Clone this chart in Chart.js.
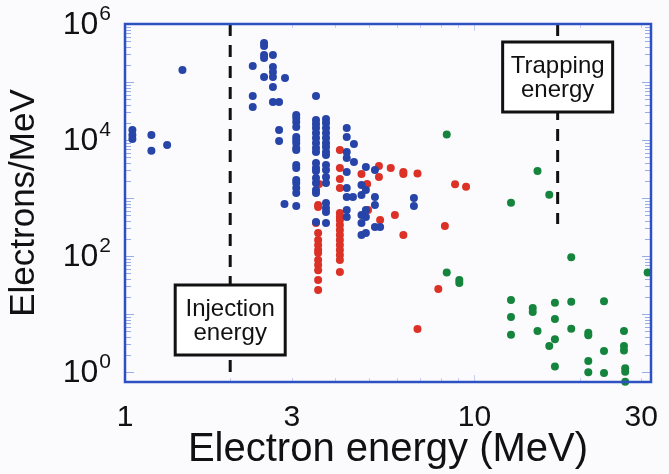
<!DOCTYPE html>
<html>
<head>
<meta charset="utf-8">
<script src="https://cdn.jsdelivr.net/npm/chart.js@4.4.1/dist/chart.umd.min.js"></script>
<style>
  body { margin: 0; background: #fbfbfd; }
  #wrap { width: 669px; height: 474px; }
</style>
</head>
<body>
<div id="wrap"><canvas id="chartSpectra" width="669" height="474"></canvas></div>
<script>
// Espectros de elétrons: [energia (MeV), elétrons/MeV]
const blueSpectra = [
    [1.05, 1.49e4], [1.05, 1.22e4], [1.05, 1.04e4], [1.19, 1.22e4], [1.19, 6.5e3], [1.32, 8.2e3], [1.46, 1.61e5],
    [2.32, 1.89e5], [2.32, 5.73e4], [2.32, 3.71e4],
    [2.50, 4.70e5], [2.50, 4.18e5], [2.50, 2.92e5], [2.50, 2.59e5], [2.50, 1.22e5],
    [2.65, 2.92e5], [2.65, 1.81e5], [2.65, 1.49e5], [2.65, 1.22e5], [2.65, 8.2e4], [2.65, 4.52e4],
    [2.76, 4.52e4], [2.76, 1.49e4], [2.76, 9.6e3], [2.87, 1.17e5], [3.52, 5.73e4], [2.86, 789],
    [3.09, 2.70e4], [3.09, 2.40e4], [3.09, 2.04e4], [3.09, 1.67e4], [3.09, 1.13e4], [3.09, 1.0e4], [3.09, 8.9e3],
    [3.09, 7.3e3], [3.09, 6.7e3], [3.09, 3.7e3], [3.09, 3.29e3], [3.09, 2.04e3], [3.09, 1.81e3], [3.09, 1.49e3],
    [3.09, 1.22e3], [3.09, 728],
    [3.52, 2.21e4], [3.52, 1.89e4], [3.52, 1.61e4], [3.52, 1.32e4], [3.52, 1.08e4], [3.52, 8.9e3], [3.52, 7.3e3],
    [3.52, 6.2e3], [3.52, 4.0e3], [3.52, 3.29e3], [3.52, 2.92e3], [3.52, 2.21e3], [3.52, 1.81e3], [3.52, 1.37e3],
    [3.52, 1.22e3], [3.52, 386],
    [3.76, 2.30e4], [3.76, 1.96e4], [3.76, 1.61e4], [3.76, 1.32e4], [3.76, 1.08e4], [3.76, 8.9e3], [3.76, 7.6e3],
    [3.76, 6.2e3], [3.76, 5.5e3], [3.76, 3.7e3], [3.76, 3.04e3], [3.76, 2.30e3], [3.76, 1.81e3], [3.76, 820],
    [3.76, 673], [3.76, 574], [3.76, 371],
    [4.31, 1.61e4], [4.31, 1.13e4], [4.31, 6.2e3], [4.31, 4.9e3], [4.31, 2.81e3], [4.31, 1.49e3], [4.31, 1.04e3],
    [4.31, 621], [4.31, 470],
    [4.52, 8.5e3], [4.52, 4.18e3], [4.89, 3.42e3], [5.19, 3.04e3], [4.75, 1.67e3], [4.89, 1.37e3], [4.75, 1.13e3],
    [4.49, 1.04e3], [5.19, 1.04e3], [5.19, 757], [4.89, 621], [4.75, 509], [4.89, 470], [4.75, 371], [5.19, 316],
    [5.37, 316], [4.89, 249], [4.75, 230], [6.71, 1.0e3], [6.71, 728]
];

const redSpectra = [
    [4.12, 6.7e3], [4.12, 3.29e3], [4.12, 2.13e3], [4.12, 1.49e3], [3.59, 1.74e3], [5.33, 3.56e3], [5.33, 2.30e3],
    [5.76, 3.29e3], [6.26, 2.81e3], [6.26, 2.59e3], [6.87, 2.65e3], [4.75, 2.59e3], [4.93, 1.74e3],
    [3.57, 757], [3.57, 700], [3.52, 371],
    [4.12, 551], [4.12, 470], [4.12, 418], [4.12, 342], [4.12, 281], [4.12, 230], [4.12, 189], [4.12, 155],
    [4.12, 127], [4.12, 104], [4.12, 85], [4.12, 53],
    [3.57, 249], [3.57, 189], [3.57, 155], [3.57, 127], [3.57, 113], [3.57, 85], [3.57, 70], [3.57, 57],
    [3.57, 38.6], [3.57, 25.9],
    [4.96, 621], [5.37, 418], [5.92, 509], [6.26, 230], [8.23, 329], [7.88, 27], [8.80, 1.72e3], [9.46, 1.57e3],
    [6.87, 5.5]
];

const greenSpectra = [
    [8.33, 1.25e4], [15.15, 2.92e3], [16.37, 1.14e3], [12.72, 830], [18.92, 95], [31.3, 52], [8.33, 52],
    [9.05, 38.6], [9.05, 34.2], [12.72, 17.4], [12.72, 8.9], [12.72, 4.4], [14.68, 12.7], [14.68, 10.8],
    [15.15, 5.1], [16.99, 15.6], [16.99, 8.2], [16.99, 3.66], [16.37, 2.81], [16.99, 1.24], [18.92, 16.2],
    [18.92, 5.6], [21.17, 4.75], [21.17, 4.3], [21.17, 1.55], [21.17, 0.99], [23.48, 16.6], [23.48, 2.30],
    [23.48, 0.96], [26.78, 5.1], [26.78, 2.81], [26.78, 2.35], [27.0, 1.16], [27.0, 1.01], [27.0, 0.68]
];

// Eixos
const energyTicks = [1, 3, 10, 30];
const countExponents = [0, 2, 4, 6];

// Linhas de referência: energia, limite inferior da linha, rótulo
const markerEnergy = [2.0, 17.3];
const markerLow = [0.673, 357];
const markerLabel = [['Injection', 'energy'], ['Trapping', 'energy']];

const FONT = "'Liberation Sans', Arial, Helvetica, sans-serif";
const FRAME = '#2d50c2';

const toPoints = (rows) => rows.map(([x, y]) => ({ x, y }));

// Fundo, moldura azul e marcas menores
const framePlugin = {
    id: 'frame',
    beforeDraw(chart) {
        const ctx = chart.ctx;
        ctx.save();
        ctx.fillStyle = '#fbfbfd';
        ctx.fillRect(0, 0, chart.width, chart.height);
        ctx.restore();
    },
    beforeDatasetsDraw(chart) {
        const { ctx, chartArea: a, scales: { x, y } } = chart;
        ctx.save();
        ctx.strokeStyle = 'rgba(70,110,215,0.55)';
        ctx.lineWidth = 1;
        for (let e = 0; e <= 5; e++) {
            for (let m = 1; m <= 9; m++) {
                const py = Math.round(y.getPixelForValue(m * Math.pow(10, e))) + 0.5;
                if (py < a.top || py > a.bottom) continue;
                const len = m === 1 ? 9 : 6;
                ctx.beginPath();
                ctx.moveTo(a.left, py); ctx.lineTo(a.left + len, py);
                ctx.moveTo(a.right, py); ctx.lineTo(a.right - len, py);
                ctx.stroke();
            }
        }
        ctx.strokeStyle = 'rgba(70,110,215,0.3)';
        [2, 3, 4, 5, 6, 7, 8, 9, 10, 20, 30].forEach((v) => {
            const px = Math.round(x.getPixelForValue(v)) + 0.5;
            const len = v === 10 ? 7 : 4;
            ctx.beginPath();
            ctx.moveTo(px, a.bottom); ctx.lineTo(px, a.bottom - len);
            ctx.moveTo(px, a.top); ctx.lineTo(px, a.top + len);
            ctx.stroke();
        });

        // linhas tracejadas de injeção e aprisionamento
        ctx.strokeStyle = '#111';
        ctx.lineWidth = 3;
        ctx.setLineDash([12, 9]);
        markerEnergy.forEach((e, i) => {
            const px = x.getPixelForValue(e);
            ctx.beginPath();
            ctx.moveTo(px, a.top);
            ctx.lineTo(px, Math.min(a.bottom, y.getPixelForValue(markerLow[i])));
            ctx.stroke();
        });
        ctx.restore();
    },
    afterDatasetsDraw(chart) {
        const { ctx, chartArea: a, scales: { x, y } } = chart;
        ctx.save();
        ctx.strokeStyle = FRAME;
        ctx.lineWidth = 2.5;
        ctx.strokeRect(a.left, a.top, a.right - a.left, a.bottom - a.top);

        // caixas de texto
        const boxTop = [a.top + 261, a.top + 18];
        markerEnergy.forEach((e, i) => {
            const cx = x.getPixelForValue(e);
            const w = 110, h = 70;
            const top = boxTop[i];
            ctx.fillStyle = '#ffffff';
            ctx.fillRect(cx - w / 2, top, w, h);
            ctx.strokeStyle = '#111';
            ctx.lineWidth = 3;
            ctx.strokeRect(cx - w / 2, top, w, h);
            ctx.fillStyle = '#111';
            ctx.font = '24px ' + FONT;
            ctx.textAlign = 'center';
            ctx.textBaseline = 'middle';
            ctx.fillText(markerLabel[i][0], cx, top + 24);
            ctx.fillText(markerLabel[i][1], cx, top + 48);
        });

        // rótulos do eixo y como potências de dez
        ctx.fillStyle = '#111';
        ctx.textBaseline = 'middle';
        ctx.textAlign = 'right';
        countExponents.forEach((p) => {
            const py = y.getPixelForValue(Math.pow(10, p));
            const right = a.left - 14;
            ctx.font = '21px ' + FONT;
            const ew = ctx.measureText(String(p)).width;
            ctx.fillText(String(p), right, py - 10);
            ctx.font = '32px ' + FONT;
            ctx.fillText('10', right - ew - 1, py + 1);
        });
        ctx.restore();
    }
};

const ctxSpectra = document.getElementById('chartSpectra').getContext('2d');
new Chart(ctxSpectra, {
    type: 'scatter',
    data: {
        datasets: [
            { label: 'azul', data: toPoints(blueSpectra), backgroundColor: '#2745a8', clip: false },
            { label: 'vermelho', data: toPoints(redSpectra), backgroundColor: '#db3126', clip: false },
            { label: 'verde', data: toPoints(greenSpectra), backgroundColor: '#15843d', clip: false }
        ]
    },
    options: {
        responsive: false,
        animation: false,
        events: [],
        layout: { padding: { top: 24, right: 18, left: 0, bottom: 0 } },
        elements: { point: { radius: 4, borderWidth: 0, hoverRadius: 4 } },
        plugins: { legend: { display: false }, tooltip: { enabled: false } },
        scales: {
            x: {
                type: 'logarithmic',
                min: 1,
                max: 32,
                afterBuildTicks: (scale) => { scale.ticks = energyTicks.map((v) => ({ value: v })); },
                afterFit: (scale) => { scale.height = 92; },
                grid: { display: false },
                border: { display: false },
                ticks: {
                    autoSkip: false,
                    maxRotation: 0,
                    padding: 10,
                    color: '#111',
                    font: { family: FONT, size: 30 },
                    callback: (v) => String(v)
                },
                title: {
                    display: true,
                    text: 'Electron energy (MeV)',
                    color: '#111',
                    font: { family: FONT, size: 40 },
                    padding: { top: 0, bottom: 0 }
                }
            },
            y: {
                type: 'logarithmic',
                min: 0.673,
                max: 1e6,
                afterFit: (scale) => { scale.width = 125; },
                grid: { display: false },
                border: { display: false },
                ticks: { display: false },
                title: {
                    display: true,
                    text: 'Electrons/MeV',
                    color: '#111',
                    font: { family: FONT, size: 35 },
                    padding: { top: 3, bottom: 0 }
                }
            }
        }
    },
    plugins: [framePlugin]
});
</script>
</body>
</html>
